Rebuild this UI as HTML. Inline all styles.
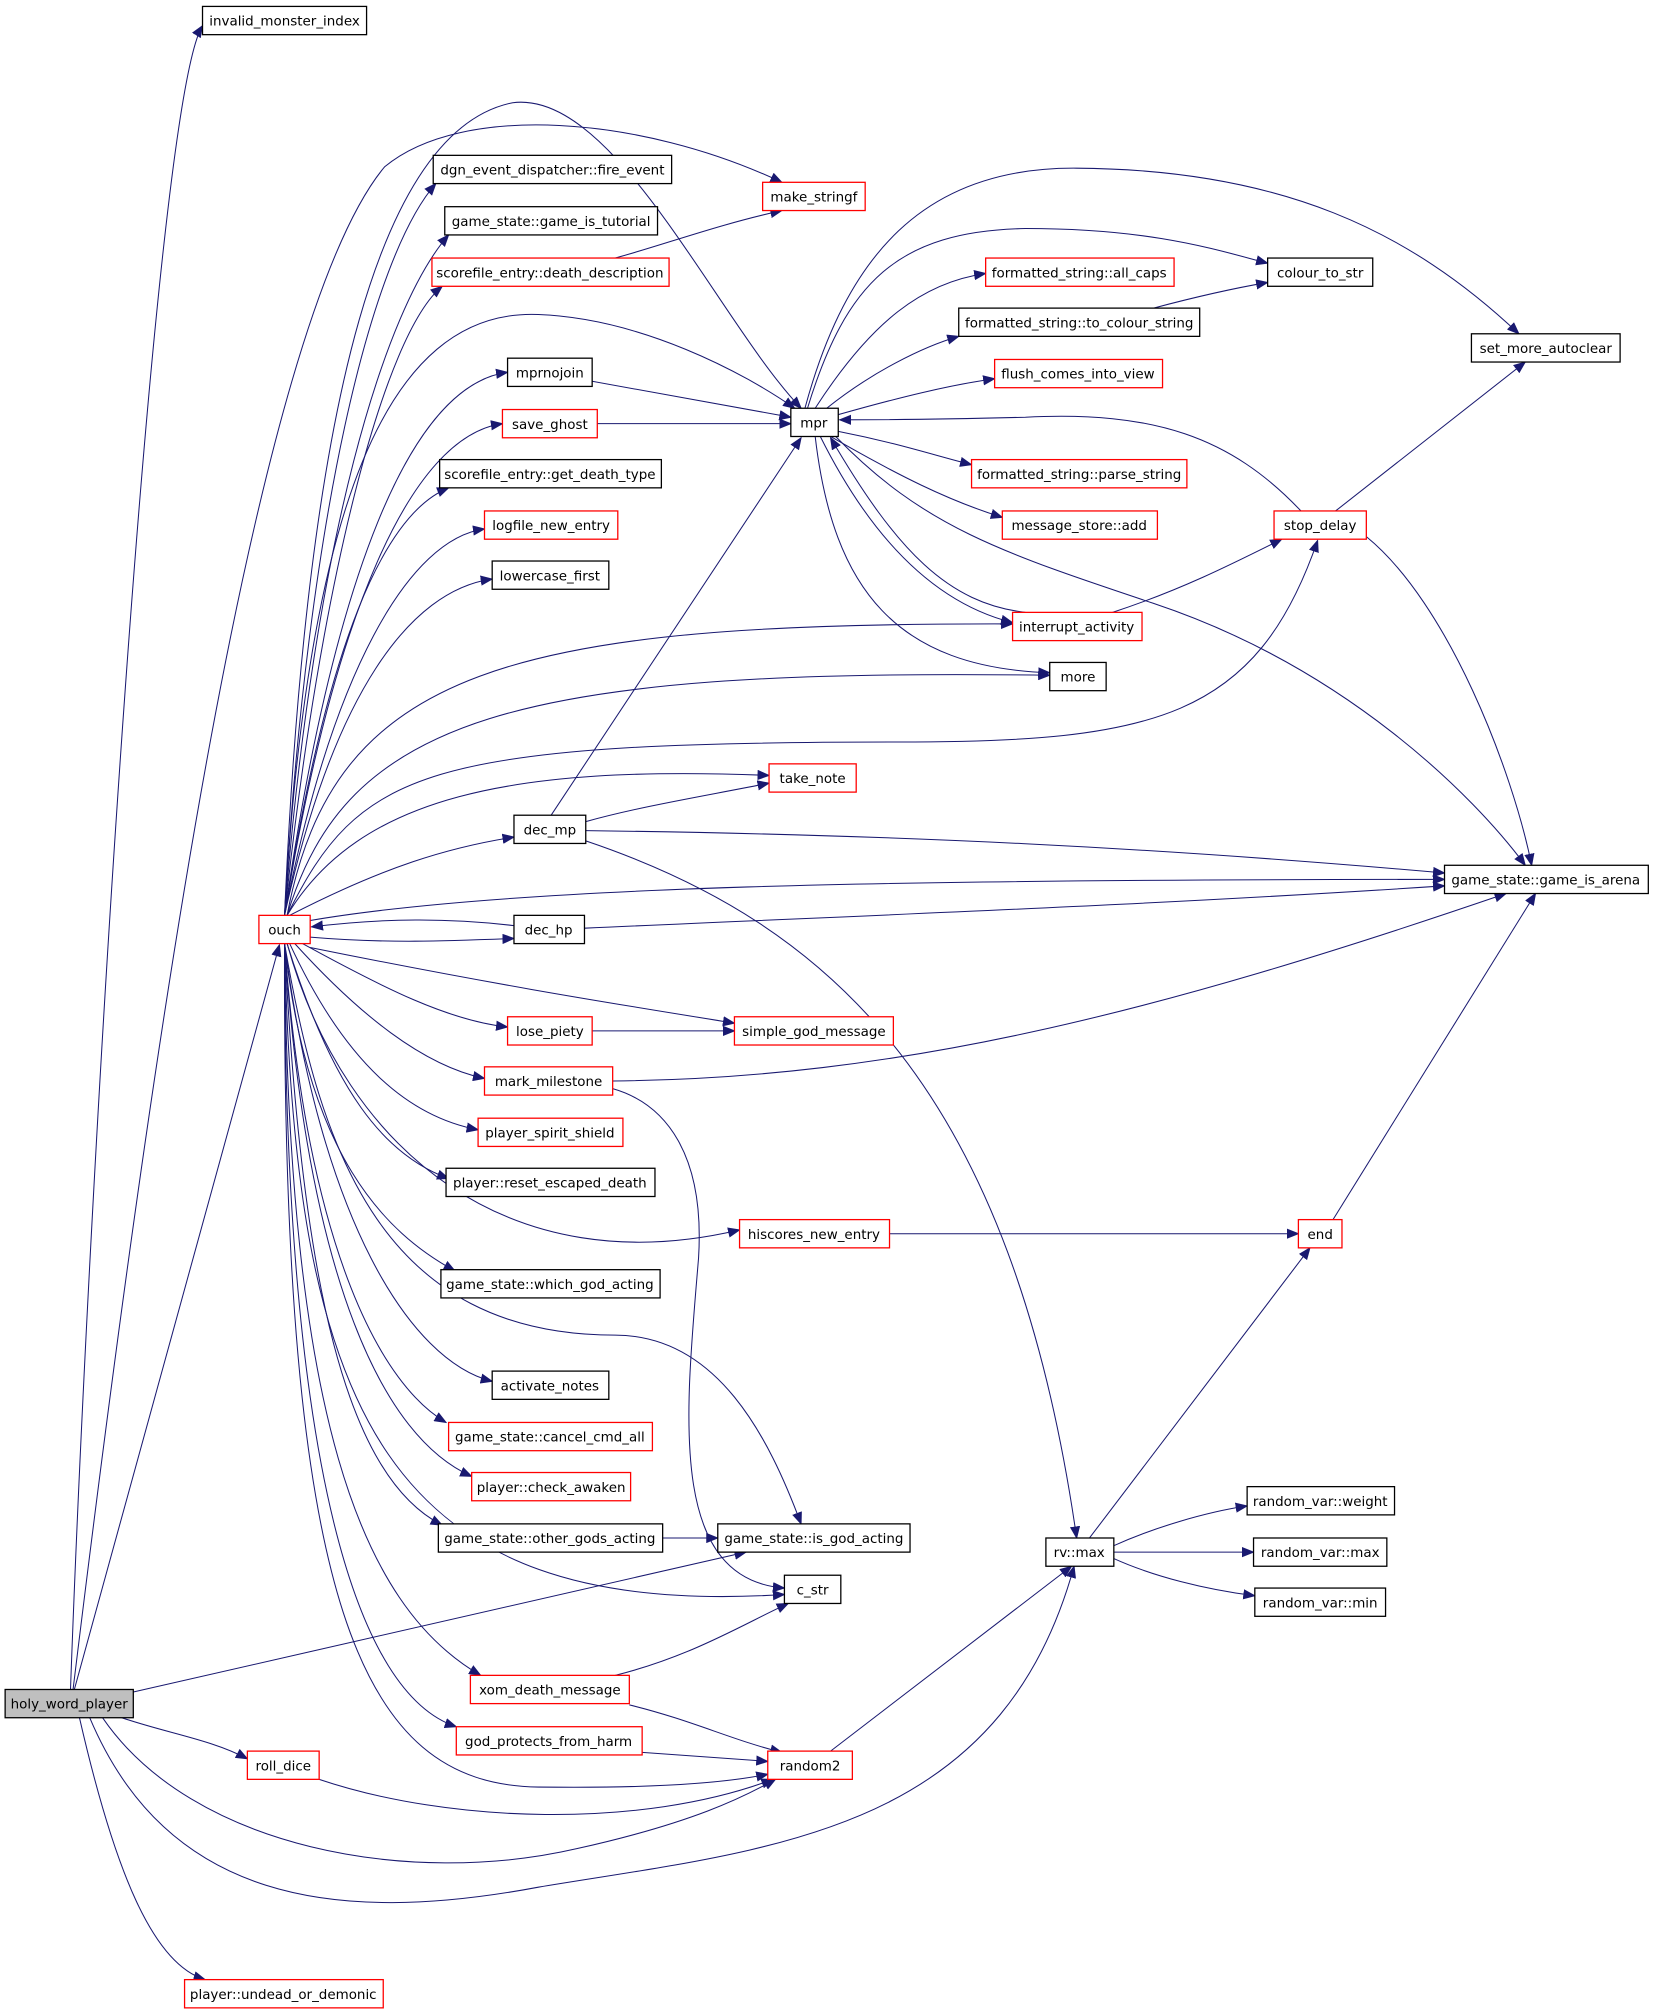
<!DOCTYPE html>
<html><head><meta charset="utf-8"><style>
html,body{margin:0;padding:0;background:#fff;}
svg{display:block;}
text{font-family:"DejaVu Sans","Liberation Sans",sans-serif;font-size:10.5px;fill:#000;}
</style></head><body>
<svg width="1656" height="2013" viewBox="0 0 1292 1568" preserveAspectRatio="none" xmlns="http://www.w3.org/2000/svg">
<defs><marker id="a" markerWidth="10" markerHeight="8" refX="9" refY="4" orient="auto" markerUnits="userSpaceOnUse"><polygon points="0,0 10,4 0,8" fill="#191970"/></marker></defs>
<g fill="none" stroke="#191970" stroke-width="0.8" marker-end="url(#a)">
<path d="M222 713 C 240 400, 290 200, 340 143"/>
<path d="M222 713 C 245 420, 300 240, 350 183"/>
<path d="M222 713 C 250 450, 300 260, 345 223"/>
<path d="M222 713 C 260 450, 320 300, 396 290"/>
<path d="M222 713 C 260 480, 320 340, 392 330"/>
<path d="M222 713 C 255 500, 300 400, 350 380"/>
<path d="M222 713 C 260 520, 320 420, 378 412"/>
<path d="M222 713 C 260 540, 320 460, 384 451"/>
<path d="M224 713 C 260 520, 400 485, 790 486"/>
<path d="M224 713 C 270 560, 400 520, 819 526"/>
<path d="M224 713 C 280 600, 330 578, 700 578 C 900 578, 980 560, 1028 421"/>
<path d="M224 713 C 280 620, 400 596, 600 604"/>
<path d="M226 713 C 300 675, 350 660, 401 652"/>
<path d="M242 717 C 400 690, 700 685, 1127 685"/>
<path d="M401 721 C 350 715, 300 715, 243 722"/>
<path d="M242 730 C 300 735, 350 733, 401 731"/>
<path d="M236 735 C 300 770, 350 795, 396 800"/>
<path d="M242 738 C 400 770, 500 785, 573 797"/>
<path d="M230 735 C 280 790, 330 830, 378 840"/>
<path d="M226 735 C 270 830, 320 870, 373 880"/>
<path d="M224 735 C 260 850, 300 900, 350 918"/>
<path d="M224 735 C 270 900, 400 1000, 577 958"/>
<path d="M222 735 C 240 900, 300 960, 355 990"/>
<path d="M222 735 C 250 900, 300 1040, 480 1040 C 560 1040, 600 1120, 625 1187"/>
<path d="M222 735 C 250 950, 320 1060, 384 1076"/>
<path d="M222 735 C 240 980, 300 1080, 348 1108"/>
<path d="M222 735 C 240 1000, 300 1120, 368 1150"/>
<path d="M222 735 C 235 1000, 270 1150, 345 1188"/>
<path d="M222 735 C 230 1100, 300 1262, 612 1242"/>
<path d="M222 735 C 225 1100, 280 1250, 375 1305"/>
<path d="M222 735 C 222 1150, 280 1320, 356 1345"/>
<path d="M222 735 C 220 1250, 280 1390, 420 1392 C 500 1393, 560 1390, 599 1382"/>
<path d="M222 713 C 240 300, 300 100, 400 80 C 480 70, 560 250, 625 318"/>
<path d="M222 713 C 240 400, 300 240, 420 245 C 500 248, 580 290, 620 318"/>
<path d="M57 1316 C 120 800, 200 250, 300 130 C 360 80, 500 90, 610 142"/>
<path d="M480 201 C 520 190, 560 175, 610 164"/>
<path d="M462 297 L 617 325"/>
<path d="M466 330 L 617 330"/>
<path d="M430 635 L 625 341"/>
<path d="M636 318 C 680 250, 720 220, 769 213"/>
<path d="M630 318 C 660 220, 700 180, 800 178 C 900 178, 950 195, 989 205"/>
<path d="M628 318 C 660 200, 720 130, 840 131 C 1000 132, 1100 180, 1185 260"/>
<path d="M645 318 C 680 290, 720 270, 748 262"/>
<path d="M654 323 C 700 310, 740 300, 776 295"/>
<path d="M900 240 C 930 232, 960 225, 989 220"/>
<path d="M654 336 C 700 345, 730 355, 758 362"/>
<path d="M648 340 C 700 370, 740 390, 782 403"/>
<path d="M640 340 C 680 420, 730 470, 790 485"/>
<path d="M800 477 C 740 470, 700 430, 648 341"/>
<path d="M636 340 C 650 460, 700 520, 819 524"/>
<path d="M652 340 C 720 410, 780 430, 900 470 C 1050 520, 1150 620, 1190 674"/>
<path d="M868 477 C 920 460, 960 440, 1000 420"/>
<path d="M1015 398 C 960 340, 900 320, 800 325 C 720 327, 680 327, 655 327"/>
<path d="M1042 398 L 1190 282"/>
<path d="M1066 418 C 1130 470, 1180 600, 1195 674"/>
<path d="M457 640 C 500 628, 550 620, 600 610"/>
<path d="M457 647 C 700 650, 900 660, 1127 680"/>
<path d="M457 655 C 650 720, 790 850, 840 1198"/>
<path d="M456 723 C 700 712, 900 705, 1127 690"/>
<path d="M462 803 L 573 803"/>
<path d="M478 842 C 700 840, 900 790, 1175 696"/>
<path d="M478 848 C 520 860, 550 900, 545 980 C 535 1100, 520 1230, 612 1237"/>
<path d="M694 961 L 1013 961"/>
<path d="M1040 950 L 1198 696"/>
<path d="M517 1198 L 560 1198"/>
<path d="M850 1198 L 1022 972"/>
<path d="M869 1204 C 900 1190, 940 1178, 973 1173"/>
<path d="M869 1209 L 978 1209"/>
<path d="M869 1214 C 900 1228, 940 1238, 979 1243"/>
<path d="M480 1305 C 540 1290, 580 1265, 615 1249"/>
<path d="M491 1328 C 540 1340, 570 1355, 610 1365"/>
<path d="M501 1365 C 540 1368, 570 1370, 599 1372"/>
<path d="M249 1386 C 350 1420, 500 1425, 603 1386"/>
<path d="M648 1364 L 836 1220"/>
<path d="M104 1318 L 582 1209"/>
<path d="M58 1316 L 218 736"/>
<path d="M95 1338 C 130 1350, 165 1355, 193 1370"/>
<path d="M80 1338 C 150 1440, 320 1470, 450 1440 C 540 1420, 580 1400, 605 1386"/>
<path d="M70 1338 C 130 1480, 260 1500, 420 1470 C 600 1440, 780 1430, 838 1220"/>
<path d="M62 1338 C 90 1460, 120 1530, 160 1542"/>
<path d="M55 1316 C 70 900, 120 80, 158 20"/>
</g>
<g stroke-width="1">
<rect x="158" y="5" width="128" height="22" fill="#fff" stroke="#000"/><text x="222" y="20" text-anchor="middle">invalid_monster_index</text>
<rect x="338" y="121" width="186" height="22" fill="#fff" stroke="#000"/><text x="431" y="136" text-anchor="middle">dgn_event_dispatcher::fire_event</text>
<rect x="347" y="161" width="166" height="22" fill="#fff" stroke="#000"/><text x="430" y="176" text-anchor="middle">game_state::game_is_tutorial</text>
<rect x="337" y="201" width="185" height="22" fill="#fff" stroke="#f00"/><text x="429" y="216" text-anchor="middle">scorefile_entry::death_description</text>
<rect x="595" y="142" width="80" height="22" fill="#fff" stroke="#f00"/><text x="635" y="157" text-anchor="middle">make_stringf</text>
<rect x="396" y="279" width="66" height="22" fill="#fff" stroke="#000"/><text x="429" y="294" text-anchor="middle">mprnojoin</text>
<rect x="392" y="319" width="74" height="22" fill="#fff" stroke="#f00"/><text x="429" y="334" text-anchor="middle">save_ghost</text>
<rect x="617" y="318" width="37" height="22" fill="#fff" stroke="#000"/><text x="635" y="333" text-anchor="middle">mpr</text>
<rect x="343" y="358" width="173" height="22" fill="#fff" stroke="#000"/><text x="429" y="373" text-anchor="middle">scorefile_entry::get_death_type</text>
<rect x="378" y="398" width="104" height="22" fill="#fff" stroke="#f00"/><text x="430" y="413" text-anchor="middle">logfile_new_entry</text>
<rect x="384" y="437" width="91" height="22" fill="#fff" stroke="#000"/><text x="429" y="452" text-anchor="middle">lowercase_first</text>
<rect x="769" y="201" width="147" height="22" fill="#fff" stroke="#f00"/><text x="842" y="216" text-anchor="middle">formatted_string::all_caps</text>
<rect x="989" y="201" width="82" height="22" fill="#fff" stroke="#000"/><text x="1030" y="216" text-anchor="middle">colour_to_str</text>
<rect x="748" y="240" width="188" height="22" fill="#fff" stroke="#000"/><text x="842" y="255" text-anchor="middle">formatted_string::to_colour_string</text>
<rect x="1148" y="260" width="116" height="22" fill="#fff" stroke="#000"/><text x="1206" y="275" text-anchor="middle">set_more_autoclear</text>
<rect x="776" y="280" width="131" height="22" fill="#fff" stroke="#f00"/><text x="841" y="295" text-anchor="middle">flush_comes_into_view</text>
<rect x="758" y="358" width="168" height="22" fill="#fff" stroke="#f00"/><text x="842" y="373" text-anchor="middle">formatted_string::parse_string</text>
<rect x="782" y="398" width="121" height="22" fill="#fff" stroke="#f00"/><text x="842" y="413" text-anchor="middle">message_store::add</text>
<rect x="994" y="398" width="72" height="22" fill="#fff" stroke="#f00"/><text x="1030" y="413" text-anchor="middle">stop_delay</text>
<rect x="790" y="477" width="101" height="22" fill="#fff" stroke="#f00"/><text x="840" y="492" text-anchor="middle">interrupt_activity</text>
<rect x="819" y="516" width="44" height="22" fill="#fff" stroke="#000"/><text x="841" y="531" text-anchor="middle">more</text>
<rect x="600" y="595" width="68" height="22" fill="#fff" stroke="#f00"/><text x="634" y="610" text-anchor="middle">take_note</text>
<rect x="401" y="635" width="56" height="22" fill="#fff" stroke="#000"/><text x="429" y="650" text-anchor="middle">dec_mp</text>
<rect x="1127" y="674" width="159" height="22" fill="#fff" stroke="#000"/><text x="1206" y="689" text-anchor="middle">game_state::game_is_arena</text>
<rect x="202" y="713" width="40" height="22" fill="#fff" stroke="#f00"/><text x="222" y="728" text-anchor="middle">ouch</text>
<rect x="401" y="713" width="55" height="22" fill="#fff" stroke="#000"/><text x="428" y="728" text-anchor="middle">dec_hp</text>
<rect x="396" y="792" width="66" height="22" fill="#fff" stroke="#f00"/><text x="429" y="807" text-anchor="middle">lose_piety</text>
<rect x="573" y="792" width="124" height="22" fill="#fff" stroke="#f00"/><text x="635" y="807" text-anchor="middle">simple_god_message</text>
<rect x="378" y="831" width="100" height="22" fill="#fff" stroke="#f00"/><text x="428" y="846" text-anchor="middle">mark_milestone</text>
<rect x="373" y="871" width="113" height="22" fill="#fff" stroke="#f00"/><text x="429" y="886" text-anchor="middle">player_spirit_shield</text>
<rect x="348" y="910" width="163" height="22" fill="#fff" stroke="#000"/><text x="429" y="925" text-anchor="middle">player::reset_escaped_death</text>
<rect x="577" y="950" width="117" height="22" fill="#fff" stroke="#f00"/><text x="635" y="965" text-anchor="middle">hiscores_new_entry</text>
<rect x="1013" y="950" width="34" height="22" fill="#fff" stroke="#f00"/><text x="1030" y="965" text-anchor="middle">end</text>
<rect x="344" y="989" width="171" height="22" fill="#fff" stroke="#000"/><text x="429" y="1004" text-anchor="middle">game_state::which_god_acting</text>
<rect x="384" y="1068" width="91" height="22" fill="#fff" stroke="#000"/><text x="429" y="1083" text-anchor="middle">activate_notes</text>
<rect x="350" y="1108" width="159" height="22" fill="#fff" stroke="#f00"/><text x="429" y="1123" text-anchor="middle">game_state::cancel_cmd_all</text>
<rect x="368" y="1147" width="124" height="22" fill="#fff" stroke="#f00"/><text x="430" y="1162" text-anchor="middle">player::check_awaken</text>
<rect x="342" y="1187" width="175" height="22" fill="#fff" stroke="#000"/><text x="429" y="1202" text-anchor="middle">game_state::other_gods_acting</text>
<rect x="560" y="1187" width="150" height="22" fill="#fff" stroke="#000"/><text x="635" y="1202" text-anchor="middle">game_state::is_god_acting</text>
<rect x="816" y="1198" width="53" height="22" fill="#fff" stroke="#000"/><text x="842" y="1213" text-anchor="middle">rv::max</text>
<rect x="973" y="1158" width="115" height="22" fill="#fff" stroke="#000"/><text x="1030" y="1173" text-anchor="middle">random_var::weight</text>
<rect x="978" y="1198" width="104" height="22" fill="#fff" stroke="#000"/><text x="1030" y="1213" text-anchor="middle">random_var::max</text>
<rect x="979" y="1237" width="102" height="22" fill="#fff" stroke="#000"/><text x="1030" y="1252" text-anchor="middle">random_var::min</text>
<rect x="612" y="1227" width="44" height="22" fill="#fff" stroke="#000"/><text x="634" y="1242" text-anchor="middle">c_str</text>
<rect x="4" y="1316" width="100" height="22" fill="#bfbfbf" stroke="#000"/><text x="54" y="1331" text-anchor="middle">holy_word_player</text>
<rect x="367" y="1305" width="124" height="22" fill="#fff" stroke="#f00"/><text x="429" y="1320" text-anchor="middle">xom_death_message</text>
<rect x="356" y="1345" width="145" height="22" fill="#fff" stroke="#f00"/><text x="428" y="1360" text-anchor="middle">god_protects_from_harm</text>
<rect x="599" y="1364" width="66" height="22" fill="#fff" stroke="#f00"/><text x="632" y="1379" text-anchor="middle">random2</text>
<rect x="193" y="1364" width="56" height="22" fill="#fff" stroke="#f00"/><text x="221" y="1379" text-anchor="middle">roll_dice</text>
<rect x="144" y="1542" width="155" height="22" fill="#fff" stroke="#f00"/><text x="221" y="1557" text-anchor="middle">player::undead_or_demonic</text>
</g>
</svg>
</body></html>
